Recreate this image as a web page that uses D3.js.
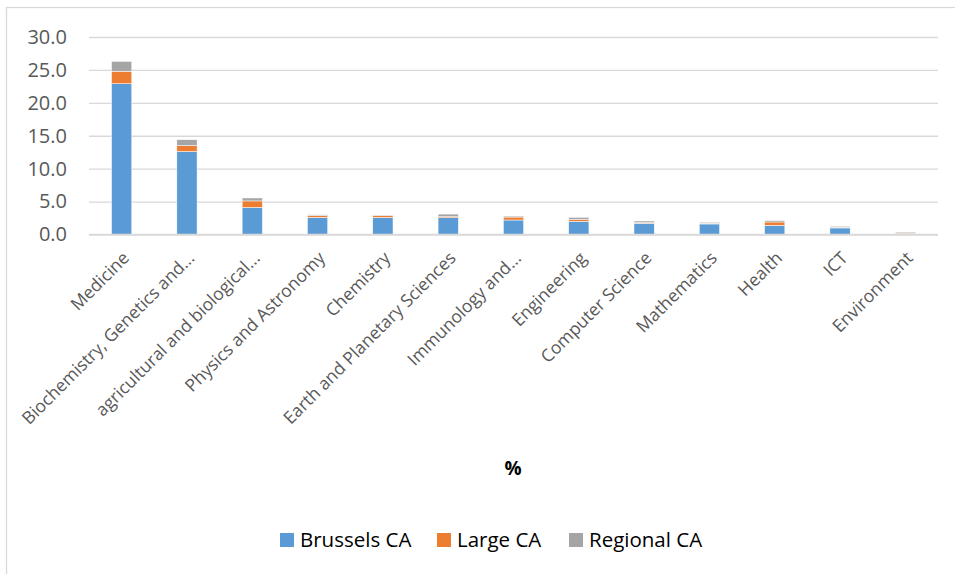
<!DOCTYPE html>
<html>
<head>
<meta charset="utf-8">
<script src="https://cdn.jsdelivr.net/npm/d3@7"></script>
<style>
  html, body { margin: 0; padding: 0; background: #fff; }
  svg { display: block; font-family: "Open Sans", "Noto Sans", sans-serif; }
</style>
</head>
<body>
<svg id="chart" width="955" height="574"></svg>
<script>
// Share of publications by discipline (%), stacked per type of institution
const categories = [
  "Medicine",
  "Biochemistry, Genetics and...",
  "agricultural and biological...",
  "Physics and Astronomy",
  "Chemistry",
  "Earth and Planetary Sciences",
  "Immunology and...",
  "Engineering",
  "Computer Science",
  "Mathematics",
  "Health",
  "ICT",
  "Environment"
];
const seriesNames = ["Brussels CA", "Large CA", "Regional CA"];
const brusselsCA = [22.9, 12.6, 4.1, 2.6, 2.6, 2.55, 2.2, 2.0, 1.7, 1.6, 1.4, 1.0, 0.05];
const largeCA    = [1.9, 0.9, 1.0, 0.3, 0.3, 0.15, 0.45, 0.3, 0.1, 0.1, 0.5, 0.1, 0.15];
const regionalCA = [1.5, 0.9, 0.45, 0.1, 0.05, 0.4, 0.15, 0.3, 0.25, 0.15, 0.2, 0.15, 0.15];
const yTicks = [0, 5, 10, 15, 20, 25, 30];
const colors = ["#5B9BD5", "#ED7D31", "#A5A5A5"];

const FONT = "'Open Sans', 'Noto Sans', sans-serif";

const rows = categories.map((c, i) => ({
  category: c,
  "Brussels CA": brusselsCA[i],
  "Large CA": largeCA[i],
  "Regional CA": regionalCA[i]
}));

const svg = d3.select("#chart");

// outer chart frame
svg.append("rect")
  .attr("x", 6.5).attr("y", 7.5)
  .attr("width", 1000).attr("height", 700)
  .attr("fill", "none").attr("stroke", "#d9d9d9").attr("stroke-width", 1.3);

const plot = { left: 89, right: 938, top: 37, bottom: 234.5 };

const x = d3.scaleBand()
  .domain(categories)
  .range([plot.left, plot.right])
  .paddingInner(0.69)
  .paddingOuter(0.345);

const y = d3.scaleLinear()
  .domain([0, 30])
  .range([plot.bottom, plot.top]);

// gridlines
const grid = svg.append("g")
  .attr("transform", `translate(${plot.left},0)`)
  .call(d3.axisLeft(y).tickValues(yTicks).tickSize(-(plot.right - plot.left)).tickFormat(""));
grid.select(".domain").remove();
grid.selectAll("line").attr("stroke", "#d9d9d9").attr("stroke-width", 1.3);

// y tick labels
const yAxis = svg.append("g")
  .attr("transform", `translate(${67},0)`)
  .call(d3.axisLeft(y).tickValues(yTicks).tickSize(0).tickPadding(0).tickFormat(d3.format(".1f")));
yAxis.attr("font-family", FONT).attr("font-size", 20);
yAxis.select(".domain").remove();
yAxis.selectAll("text").attr("fill", "#595959");

// stacked bars
const stack = d3.stack().keys(seriesNames);
const layers = stack(rows);

svg.append("g").selectAll("g")
  .data(layers)
  .join("g")
  .attr("fill", (d, i) => colors[i])
  .selectAll("rect")
  .data(d => d)
  .join("rect")
  .attr("x", d => x(d.data.category))
  .attr("width", x.bandwidth())
  .attr("y", d => y(d[1]))
  .attr("height", d => Math.max(0, y(d[0]) - y(d[1])))
  .attr("stroke", "#ffffff")
  .attr("stroke-width", 0.5);

// baseline
svg.append("line")
  .attr("x1", plot.left).attr("x2", plot.right)
  .attr("y1", y(0)).attr("y2", y(0))
  .attr("stroke", "#d9d9d9").attr("stroke-width", 1.3);

// rotated category labels
const xAxis = svg.append("g")
  .attr("transform", `translate(0,${plot.bottom})`)
  .call(d3.axisBottom(x).tickSize(0).tickPadding(0));
xAxis.attr("font-family", FONT).attr("font-size", 17.5);
xAxis.select(".domain").remove();
xAxis.selectAll("text")
  .attr("fill", "#595959")
  .attr("text-anchor", "end")
  .attr("dy", "0.7em")
  .attr("transform", "translate(0,16) rotate(-45)");

// axis title
svg.append("text")
  .attr("x", 513).attr("y", 475)
  .attr("text-anchor", "middle")
  .attr("font-weight", "bold")
  .attr("fill", "#000")
  .style("font-size", "19px")
  .text("%");

// legend
const legendX = [280, 437, 569];
const legend = svg.append("g").selectAll("g")
  .data(seriesNames)
  .join("g")
  .attr("transform", (d, i) => `translate(${legendX[i]},540)`);
legend.append("rect")
  .attr("x", 0).attr("y", -7)
  .attr("width", 14).attr("height", 14)
  .attr("fill", (d, i) => colors[i]);
legend.append("text")
  .attr("x", 20).attr("y", 7)
  .attr("fill", "#000")
  .style("font-size", "20.5px")
  .text(d => d);
</script>
</body>
</html>
